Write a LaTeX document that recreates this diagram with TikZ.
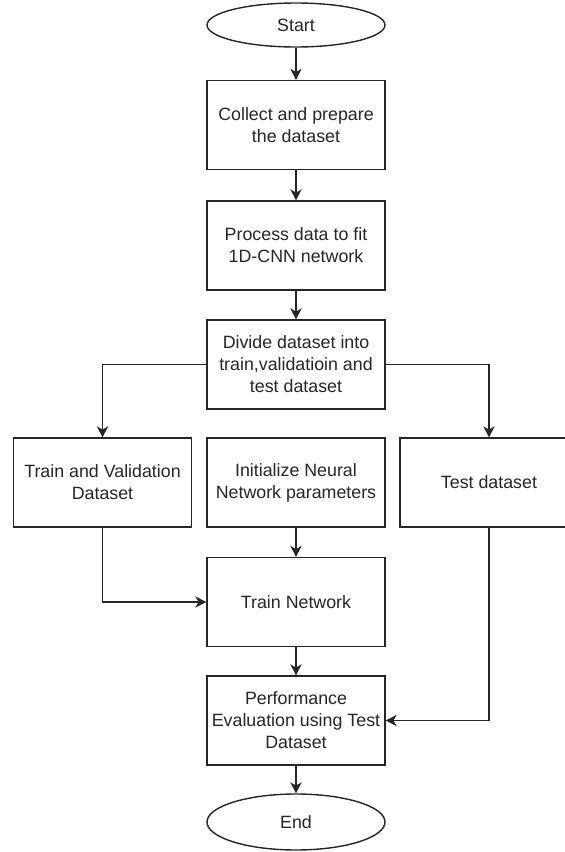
\documentclass[tikz,border=0pt]{standalone}
\usepackage{fontspec}
\setmainfont{Liberation Sans}
\usetikzlibrary{shapes.geometric,arrows.meta}

\begin{document}
\begin{tikzpicture}[
    box/.style={rectangle, draw=black!85, line width=1.2pt, minimum width=5.34cm, minimum height=2.67cm, inner sep=0pt, align=center, text=black!85, font=\fontsize{15.2}{18.8}\selectfont},
    term/.style={ellipse, draw=black!85, line width=1.2pt, minimum width=5.34cm, inner sep=0pt, text=black!85, font=\fontsize{15.2}{18.8}\selectfont},
    flow/.style={-{Stealth[length=3.3mm, width=3.4mm, inset=1mm]}, draw=black!85, line width=1.2pt}
]
    % Frame of the picture
    \useasboundingbox (0,0) rectangle (16.95,-25.56);
    \clip (0,0) rectangle (16.95,-25.56);

    % Start and the preparation steps
    \node[term, minimum height=1.32cm] (start) at (8.88,-0.75) {Start};
    \node[box] (collect) at (8.88,-3.75) {Collect and prepare\\the dataset};
    \node[box] (process) at (8.88,-7.365) {Process data to fit\\1D-CNN network};
    \node[box] (divide) at (8.88,-10.935) {Divide dataset into\\train,validatioin and\\test dataset};

    % The three blocks in the middle row
    \node[box] (trainval) at (3.075,-14.475) {Train and Validation\\Dataset};
    \node[box] (init) at (8.88,-14.475) {Initialize Neural\\Network parameters};
    \node[box] (testset) at (14.67,-14.475) {Test dataset};

    % Training, evaluation and end
    \node[box] (trainnet) at (8.88,-18.06) {Train Network};
    \node[box] (perf) at (8.88,-21.615) {Performance\\Evaluation using Test\\Dataset};
    \node[term, minimum height=1.68cm] (finish) at (8.88,-24.66) {End};

    % Arrows between the steps
    \draw[flow] (start) -- (collect);
    \draw[flow] (collect) -- (process);
    \draw[flow] (process) -- (divide);
    \draw[flow] (divide.west) -| (trainval.north);
    \draw[flow] (divide.east) -| (testset.north);
    \draw[flow] (init) -- (trainnet);
    \draw[flow] (trainval.south) |- (trainnet.west);
    \draw[flow] (trainnet) -- (perf);
    \draw[flow] (testset.south) |- (perf.east);
    \draw[flow] (perf) -- (finish);

\end{tikzpicture}
\end{document}
